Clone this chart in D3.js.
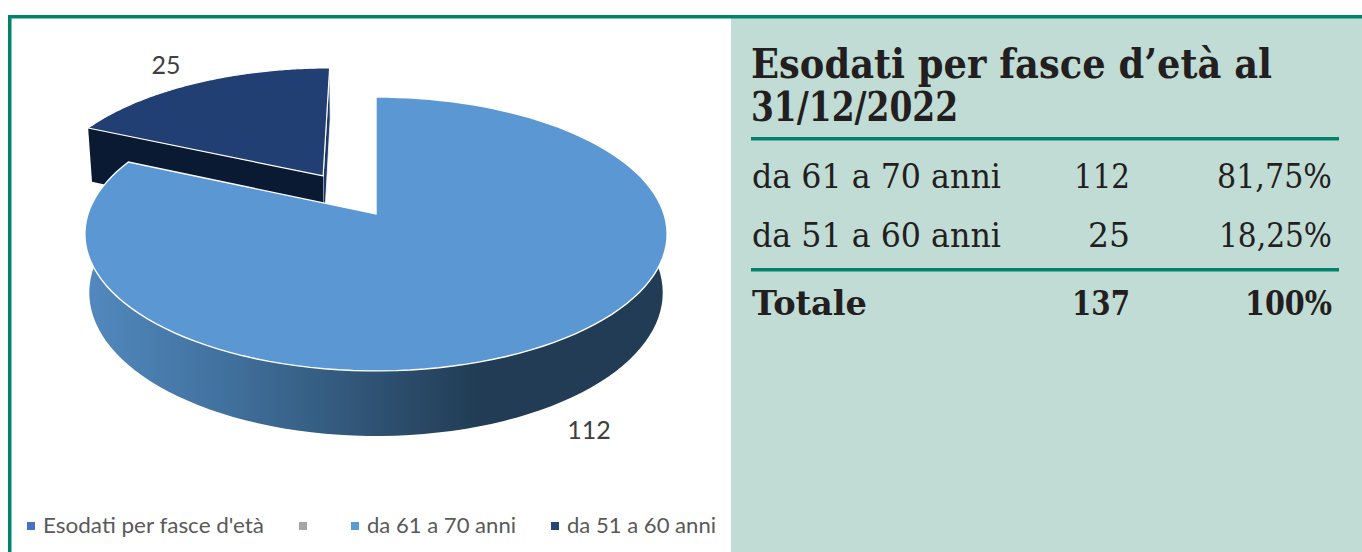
<!DOCTYPE html>
<html>
<head>
<meta charset="utf-8">
<script src="https://cdn.jsdelivr.net/npm/d3@7"></script>
<style>
    html, body { margin: 0; padding: 0; background: #fff; overflow: hidden; }
    svg { display: block; }
    .serif { font-family: "DejaVu Serif", serif; fill: #231f20; }
    .sans { font-family: Lato, sans-serif; fill: #404040; }
</style>
</head>
<body>
<div id="chart"></div>
<script>
// data
const sliceNames = ["da 61 a 70 anni", "da 51 a 60 anni"];
const sliceValues = [112, 25];
const slicePercents = ["81,75%", "18,25%"];
const totalRow = ["Totale", "137", "100%"];
const titleLines = ["Esodati per fasce d\u2019età al", "31/12/2022"];
const legendNames = ["Esodati per fasce d'età", "", "da 61 a 70 anni", "da 51 a 60 anni"];
const legendColors = ["#4472c4", "#a5a5a5", "#5b9bd5", "#264478"];

const width = 1362, height = 552;
const green = "#00836a";

const svg = d3.select("#chart").append("svg")
    .attr("width", width)
    .attr("height", height);

// panel and frame
svg.append("rect").attr("x", 731).attr("y", 17).attr("width", width - 731).attr("height", height - 17).attr("fill", "#c1dcd5");
svg.append("rect").attr("x", 8).attr("y", 15).attr("width", width - 8).attr("height", 3.5).attr("fill", green);
svg.append("rect").attr("x", 8).attr("y", 15).attr("width", 3.5).attr("height", height - 15).attr("fill", green);

// perspective of the pie: u,v on the unit disc, z = 0 top face, z = 1 bottom face
const cx = 376, cy = 214;
const project = (u, v, z) => {
    const w = 1 + 0.146 * v + 0.015 * z;
    return [cx + 288 * u / w, cy + (-134 * v + 58.9 * z) / w];
};

const pie = d3.pie().sort(null)(sliceValues);
const explode = [0, 0.353];

const rimPoint = (slice, i, angle, z) => {
    const mid = (slice.startAngle + slice.endAngle) / 2;
    const u = Math.sin(angle) + explode[i] * Math.sin(mid);
    const v = Math.cos(angle) + explode[i] * Math.cos(mid);
    return project(u, v, z);
};
const apexPoint = (slice, i, z) => {
    const mid = (slice.startAngle + slice.endAngle) / 2;
    return project(explode[i] * Math.sin(mid), explode[i] * Math.cos(mid), z);
};
const angles = (slice) => d3.range(0, 121).map(k => slice.startAngle + (slice.endAngle - slice.startAngle) * k / 120);
const line = d3.line();

const topFace = (slice, i) => line.curve(d3.curveLinearClosed)(
    [apexPoint(slice, i, 0)].concat(angles(slice).map(a => rimPoint(slice, i, a, 0))));

const defs = svg.append("defs");
const grad = defs.append("linearGradient")
    .attr("id", "wallGrad")
    .attr("gradientUnits", "userSpaceOnUse")
    .attr("x1", 85).attr("x2", 667).attr("y1", 0).attr("y2", 0);
[[0, "#5289bf"], [0.25, "#40709c"], [0.5, "#2f5273"], [0.68, "#213c54"], [1, "#213c54"]].forEach(s => {
    grad.append("stop").attr("offset", s[0]).attr("stop-color", s[1]);
});

// exploded slice first, the big one covers it
const small = pie[1], big = pie[0];

// cut wall on the right of the small slice
svg.append("path")
    .attr("d", line.curve(d3.curveLinearClosed)([
        rimPoint(small, 1, small.endAngle, 0), apexPoint(small, 1, 0),
        apexPoint(small, 1, 1), rimPoint(small, 1, small.endAngle, 1)]))
    .attr("fill", "#1d3a6b")
    .attr("stroke", "#fff")
    .attr("stroke-width", 0.8);
// front wall of the small slice
svg.append("path")
    .attr("d", line.curve(d3.curveLinearClosed)([
        rimPoint(small, 1, small.startAngle, 0), apexPoint(small, 1, 0),
        apexPoint(small, 1, 1), rimPoint(small, 1, small.startAngle, 1)]))
    .attr("fill", "#0b1a33");
svg.append("path")
    .attr("d", topFace(small, 1))
    .attr("fill", "#223f74")
    .attr("stroke", "#fff")
    .attr("stroke-width", 1.2);

// big slice, wall then top
const bigAngles = angles(big);
svg.append("path")
    .attr("d", line.curve(d3.curveLinearClosed)(
        bigAngles.map(a => rimPoint(big, 0, a, 0))
            .concat(bigAngles.slice().reverse().map(a => rimPoint(big, 0, a, 1)))))
    .attr("fill", "url(#wallGrad)");
svg.append("path")
    .attr("d", topFace(big, 0))
    .attr("fill", "#5b97d3")
    .attr("stroke", "#fff")
    .attr("stroke-width", 1.4);

// value labels
svg.append("text").attr("class", "sans").attr("x", 166).attr("y", 74)
    .attr("text-anchor", "middle").style("font-size", "25px").text(sliceValues[1]);
svg.append("text").attr("class", "sans").attr("x", 589).attr("y", 439)
    .attr("text-anchor", "middle").style("font-size", "25px").text(sliceValues[0]);

// legend
const legendX = [27, 299, 351, 551];
const legendWidth = [221, 0, 149, 149];
legendNames.forEach((name, i) => {
    svg.append("rect")
        .attr("x", legendX[i]).attr("y", 522)
        .attr("width", 8).attr("height", 8)
        .attr("fill", legendColors[i]);
    if (name) {
        svg.append("text").attr("class", "sans")
            .attr("x", legendX[i] + 16).attr("y", 533)
            .attr("textLength", legendWidth[i]).attr("lengthAdjust", "spacingAndGlyphs")
            .style("font-size", "22px")
            .style("fill", "#595959")
            .text(name);
    }
});

// title
svg.append("text").attr("class", "serif").attr("x", 751).attr("y", 78)
    .attr("textLength", 521).attr("lengthAdjust", "spacingAndGlyphs")
    .style("font-size", "41px").style("font-weight", "bold").text(titleLines[0]);
svg.append("text").attr("class", "serif").attr("x", 751).attr("y", 121)
    .attr("textLength", 207).attr("lengthAdjust", "spacingAndGlyphs")
    .style("font-size", "41px").style("font-weight", "bold").text(titleLines[1]);

// table rules
[137, 268].forEach(y => {
    svg.append("rect").attr("x", 751).attr("y", y).attr("width", 588).attr("height", 3.5).attr("fill", green);
});

// table cells, squeezed to the widths of the printed face
const cell = (txt, x, y, w, bold) => svg.append("text").attr("class", "serif")
    .attr("x", x).attr("y", y)
    .attr("textLength", w).attr("lengthAdjust", "spacingAndGlyphs")
    .style("font-size", "34px")
    .style("font-weight", bold ? "bold" : "normal")
    .text(txt);

const rowY = [188, 247];
const valueWidth = [56, 42], percentWidth = [115, 113];
sliceNames.forEach((name, i) => {
    cell(name, 752, rowY[i], 249, false);
    cell(sliceValues[i], 1130 - valueWidth[i], rowY[i], valueWidth[i], false);
    cell(slicePercents[i], 1332 - percentWidth[i], rowY[i], percentWidth[i], false);
});

cell(totalRow[0], 752, 315, 115, true);
cell(totalRow[1], 1072, 315, 58, true);
cell(totalRow[2], 1245, 315, 87, true);
</script>
</body>
</html>
